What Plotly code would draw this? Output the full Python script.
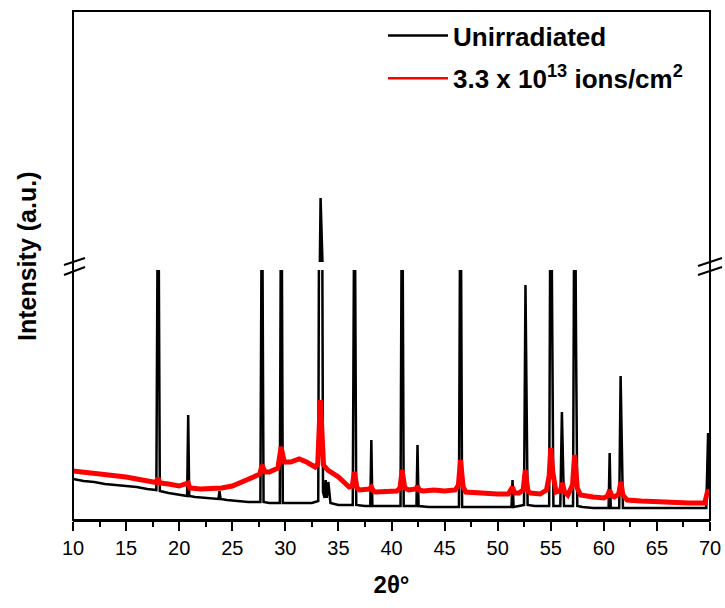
import plotly.graph_objects as go

# 2-theta (deg) and intensity (a.u.)
black_x = [10.0, 11.0, 12.0, 13.0, 14.0, 15.0, 16.0, 17.0, 17.85, 18.02, 18.18, 19.0, 20.0,
           20.75, 20.85, 20.95, 21.5, 22.5, 23.7, 23.8, 23.9, 24.5, 25.5, 26.5, 27.65, 27.8,
           27.95, 28.5, 29.48, 29.62, 29.76, 30.5, 31.5, 32.5, 33.1, 33.32, 33.55, 33.7, 33.8,
           33.9, 34.05, 34.25, 35.0, 36.35, 36.52, 36.68, 37.5, 38.0, 38.1, 38.2, 39.0, 40.0,
           40.85, 41.0, 41.15, 42.0, 42.35, 42.45, 42.55, 43.5, 44.5, 46.35, 46.5, 46.65, 47.5,
           48.5, 49.5, 50.5, 51.3, 51.4, 51.5, 52.0, 52.48, 52.62, 52.7, 52.82, 53.5, 54.5,
           54.85, 55.0, 55.12, 55.25, 55.9, 56.05, 56.15, 56.25, 57.1, 57.25, 57.38, 57.5, 58.0,
           59.0, 60.45, 60.55, 60.65, 61.45, 61.58, 61.7, 61.8, 62.5, 64.0, 65.5, 67.0, 68.5,
           69.65, 69.82, 69.92, 70.0]
black_y = [390, 370, 360, 340, 330, 320, 310, 290, 280, 4000, 270, 250, 230,
           220, 1030, 220, 210, 200, 190, 270, 190, 180, 170, 160, 160, 3800,
           160, 150, 150, 4200, 150, 150, 150, 150, 170, 8560, 260, 200, 380,
           200, 360, 150, 130, 130, 3900, 130, 120, 120, 780, 120, 120, 120,
           120, 4100, 120, 120, 120, 730, 120, 110, 110, 110, 4000, 110, 110,
           110, 110, 110, 110, 380, 110, 120, 130, 2330, 1280, 130, 120, 120,
           120, 4200, 2010, 120, 120, 1060, 580, 120, 120, 4300, 1800, 120, 110,
           100, 100, 650, 100, 100, 1420, 780, 100, 100, 100, 100, 100, 100,
           100, 850, 300, 250]

red_x = [10.0, 11.0, 12.0, 13.0, 14.0, 15.0, 16.0, 17.0, 17.8, 18.0, 18.2, 19.0, 20.0, 20.85,
         21.0, 22.0, 23.0, 24.0, 25.0, 26.0, 27.0, 27.6, 27.8, 28.1, 28.5, 29.3, 29.6, 29.9,
         30.5, 31.3, 32.0, 32.8, 33.05, 33.3, 33.6, 34.0, 35.0, 36.0, 36.3, 36.5, 36.75, 37.0,
         37.9, 38.1, 38.3, 38.5, 39.5, 40.5, 40.8, 41.0, 41.25, 41.6, 42.3, 42.45, 42.6, 43.0,
         44.0, 45.0, 46.0, 46.3, 46.5, 46.75, 47.0, 48.0, 49.0, 50.0, 51.0, 51.4, 51.6, 52.0,
         52.4, 52.6, 52.85, 53.1, 54.0, 54.6, 54.85, 55.0, 55.2, 55.5, 55.9, 56.1, 56.3, 56.6,
         57.05, 57.25, 57.5, 57.8, 59.0, 60.0, 60.35, 60.55, 60.75, 61.0, 61.4, 61.6, 61.8,
         62.2, 63.5, 65.0, 66.5, 68.0, 69.5, 69.8, 70.0]
red_y = [470, 460, 450, 440, 420, 410, 390, 370, 355, 400, 350, 340, 320, 350,
         300, 290, 290, 300, 320, 360, 410, 440, 530, 460, 460, 500, 710, 560,
         560, 590, 560, 510, 540, 1180, 530, 480, 410, 310, 320, 460, 300, 280,
         290, 310, 270, 260, 260, 270, 300, 480, 300, 280, 290, 320, 280, 270,
         280, 270, 280, 330, 580, 310, 260, 250, 240, 240, 240, 310, 250, 250,
         280, 480, 270, 250, 240, 280, 420, 700, 450, 260, 270, 350, 260, 230,
         330, 630, 300, 230, 210, 200, 220, 280, 220, 210, 240, 360, 230,
         180, 170, 160, 160, 150, 150, 280, 230]

x_ticks = [10, 15, 20, 25, 30, 35, 40, 45, 50, 55, 60, 65, 70]
series_names = ["<b>Unirradiated</b>", "<b>3.3 x 10<sup>13</sup> ions/cm<sup>2</sup></b>"]

FONT = "Liberation Sans, Arial, sans-serif"

fig = go.Figure()
# lower panel
fig.add_trace(go.Scatter(x=black_x, y=black_y, mode="lines", name=series_names[0],
                         line=dict(color="black", width=2.5), xaxis="x", yaxis="y",
                         legendgroup="a"))
# thin copy of the red series gives the legend its thin sample line
fig.add_trace(go.Scatter(x=red_x, y=red_y, mode="lines", name=series_names[1],
                         line=dict(color="#ff0000", width=2.5), xaxis="x", yaxis="y",
                         legendgroup="b"))
fig.add_trace(go.Scatter(x=red_x, y=red_y, mode="lines", showlegend=False,
                         line=dict(color="#ff0000", width=5), xaxis="x", yaxis="y",
                         legendgroup="b"))
# upper panel (same data, above the axis break)
fig.add_trace(go.Scatter(x=black_x, y=black_y, mode="lines", showlegend=False,
                         line=dict(color="black", width=2.5), xaxis="x", yaxis="y2",
                         legendgroup="a"))

W, H = 725, 608
L, R, T, B = 73, 15, 11, 88
pw, ph = W - L - R, H - T - B

def px(xp):
    return (xp - L) / pw

def py(yp):
    return (H - B - yp) / ph

shapes = [dict(type="rect", xref="paper", yref="paper", x0=0, y0=0, x1=1, y1=1,
               line=dict(color="black", width=2), layer="above")]
for (x0, y0, x1, y1) in [(64, 265, 85, 258), (64, 275, 85, 267),
                         (698, 266, 722, 258), (698, 275, 722, 267)]:
    shapes.append(dict(type="line", xref="paper", yref="paper",
                       x0=px(x0), y0=py(y0), x1=px(x1), y1=py(y1),
                       line=dict(color="black", width=2)))

fig.update_layout(
    width=W, height=H,
    margin=dict(l=L, r=R, t=T, b=B, autoexpand=False),
    paper_bgcolor="white", plot_bgcolor="white",
    font=dict(family=FONT, color="black"),
    xaxis=dict(range=[10, 70], tickvals=x_ticks, ticks="outside", ticklen=9, tickwidth=2,
               tickcolor="black", showline=True, linecolor="black", linewidth=2,
               showgrid=False, zeroline=False, tickfont=dict(size=20, family=FONT),
               automargin=False,
               minor=dict(dtick=2.5, tick0=10, ticks="outside", ticklen=5, tickwidth=2,
                          tickcolor="black", showgrid=False),
               title=dict(text="<b>2θ°</b>", font=dict(size=24, family=FONT), standoff=18),
               anchor="y"),
    yaxis=dict(domain=[0, 250 / ph], range=[-20, 2480], showticklabels=False, ticks="",
               showgrid=False, zeroline=False, showline=False, automargin=False),
    yaxis2=dict(domain=[(H - B - 262) / ph, 1], range=[6000, 6000 + 40 * 251],
                showticklabels=False, ticks="", showgrid=False, zeroline=False,
                showline=False, anchor="x", automargin=False),
    legend=dict(x=px(383), y=py(12), xanchor="left", yanchor="top",
                font=dict(size=26, family=FONT, color="black"),
                bgcolor="rgba(0,0,0,0)", traceorder="grouped", tracegroupgap=6,
                itemwidth=60),
    shapes=shapes,
    annotations=[dict(text="<b>Intensity (a.u.)</b>", xref="paper", yref="paper",
                      x=px(27), y=py(257), textangle=-90, showarrow=False,
                      font=dict(size=25, family=FONT), xanchor="center", yanchor="middle")],
)

fig.write_html("out.html")
